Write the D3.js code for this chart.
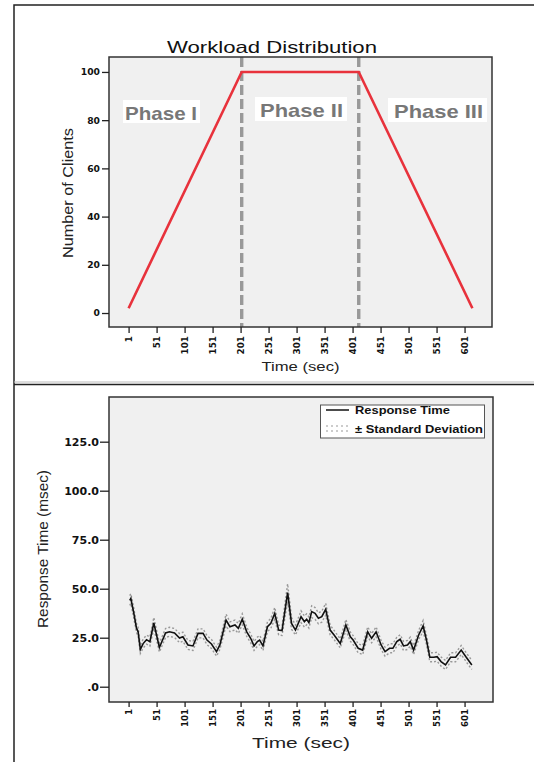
<!DOCTYPE html>
<html><head><meta charset="utf-8">
<script src="https://cdn.jsdelivr.net/npm/d3@7"></script>
<style>
body{margin:0;background:#fff}
svg{display:block}
text{font-family:"Liberation Sans",Arial,sans-serif}
.tick text{font-family:"DejaVu Sans",sans-serif}
</style></head><body>
<svg id="chart" width="534" height="762"></svg>
<script>
// workload (top panel)
const wlTime = [1, 203, 412, 615]
const wlClients = [2, 100, 100, 2]
const phaseBounds = [203, 412]
const phaseNames = ["Phase I", "Phase II", "Phase III"]
const timeTicks = [1, 51, 101, 151, 201, 251, 301, 351, 401, 451, 501, 551, 601]
const clientTicks = [0, 20, 40, 60, 80, 100]

// response time (bottom panel)
const rtTicks = [0, 25, 50, 75, 100, 125]
const rtTime = [3, 5, 10, 15, 18, 22, 27, 33, 39, 46, 56, 67, 74, 83, 92, 98, 107, 116, 125, 134,
  141, 149, 158, 164, 175, 182, 191, 197, 204, 212, 219, 225, 231, 235, 241, 249, 255, 262, 269, 275,
  285, 292, 299, 309, 315, 319, 323, 328, 334, 340, 346, 353, 361, 368, 379, 389, 397, 402, 411, 419,
  428, 435, 443, 452, 459, 467, 473, 480, 486, 492, 499, 504, 510, 519, 527, 533, 539, 546, 552, 559,
  567, 576, 585, 595, 604, 614]
const rtMean = [44, 45, 38, 30, 28, 19, 22, 24, 23, 32.5, 20, 27.4, 28, 27.4, 24.8, 25.5, 21.3, 20.8, 27.2, 27.2,
  23.8, 21.8, 17.9, 21.3, 34, 30.6, 31.5, 29.8, 34.4, 28, 24.7, 20.8, 23, 23.8, 20.8, 30.6, 32.3, 37.4, 28.9, 28.6,
  48, 32.3, 28.9, 35.7, 33.2, 34.4, 32.7, 38.3, 37.4, 34.9, 35.7, 39.5, 28.9, 26.4, 22.1, 31.5, 25.5, 23.8, 19.6, 18.7,
  28, 24.7, 28, 21.3, 17.9, 19.6, 19.6, 23, 24.2, 20.8, 21.3, 23, 18.7, 26.4, 31, 23.8, 15, 15, 15.3, 12.8,
  11.1, 15, 15, 18.7, 15, 11.1]
const rtSd = [2.5, 2.5, 2.5, 2.3, 2.3, 2, 2.3, 2.3, 2.3, 2.8, 2.3, 2.3, 2.3, 2.3, 2.3, 2.3, 2.3, 2.3, 2.3, 2.3,
  2.3, 2.3, 2.3, 2.3, 3, 2.5, 2.5, 2.5, 2.8, 2.3, 2.3, 2.3, 2.3, 2.3, 2.3, 2.5, 2.5, 3, 2.5, 2.5,
  4.5, 3, 2.5, 3, 2.8, 2.8, 2.8, 3, 3, 2.8, 2.8, 3, 2.5, 2.3, 2.3, 2.8, 2.3, 2.3, 2.3, 2.3,
  2.5, 2.3, 2.5, 2.3, 2.3, 2.3, 2.3, 2.3, 2.3, 2.3, 2.3, 2.3, 2.3, 2.3, 2.8, 2.3, 2.3, 2.3, 2.3, 2.3,
  2.3, 2.3, 2.3, 2.3, 2.3, 2.3]

const svg = d3.select("#chart")

// outer frame + divider
svg.append("path").attr("d", "M14,762V5H534").attr("fill", "none").attr("stroke", "#222").attr("stroke-width", 1.5)
svg.append("line").attr("x1", 14).attr("x2", 534).attr("y1", 382).attr("y2", 382).attr("stroke", "#bbb")
svg.append("line").attr("x1", 14).attr("x2", 534).attr("y1", 384.5).attr("y2", 384.5).attr("stroke", "#222").attr("stroke-width", 1.5)

const x = d3.scaleLinear([-34, 650], [109, 492])

function styleYTicks(g, size, gap) {
  g.select(".domain").remove()
  g.selectAll(".tick line").attr("stroke", "#222").attr("stroke-width", 1.3)
  g.selectAll(".tick text")
    .attr("font-size", size).attr("font-weight", "bold").attr("fill", "#111")
    .attr("x", -gap)
}
function styleXTicks(g, size, gap) {
  g.select(".domain").remove()
  g.selectAll(".tick line").attr("stroke", "#222").attr("stroke-width", 1.3)
  g.selectAll(".tick text")
    .attr("font-size", size).attr("font-weight", "bold").attr("fill", "#111")
    .attr("transform", "rotate(-90)")
    .attr("text-anchor", "end")
    .attr("x", -gap).attr("y", 0).attr("dy", "0.36em")
}

// ---------- top panel ----------
const y1 = d3.scaleLinear([-5.8, 106.2], [327, 57])

svg.append("rect").attr("x", 109).attr("y", 57).attr("width", 383).attr("height", 270)
  .attr("fill", "#f0f0f0")

svg.append("g").selectAll("line").data(phaseBounds).join("line")
  .attr("x1", d => x(d)).attr("x2", d => x(d))
  .attr("y1", 57).attr("y2", 327)
  .attr("stroke", "#999").attr("stroke-width", 3.4).attr("stroke-dasharray", "10,4")

svg.append("path")
  .datum(wlTime.map((t, i) => [t, wlClients[i]]))
  .attr("fill", "none").attr("stroke", "#e8323c").attr("stroke-width", 2.6)
  .attr("d", d3.line().x(d => x(d[0])).y(d => y1(d[1])))

// phase labels (boxes)
const phaseBox = [[123, 100, 77, 23], [255, 97, 92, 24], [388, 98, 99, 24]]
const phaseText = [[125, 119.5, 72], [260, 117, 83], [394, 118, 89]]
phaseNames.forEach((name, i) => {
  const b = phaseBox[i], t = phaseText[i]
  svg.append("rect").attr("x", b[0]).attr("y", b[1]).attr("width", b[2]).attr("height", b[3]).attr("fill", "#fff")
  svg.append("text").attr("x", t[0]).attr("y", t[1])
    .attr("font-size", 19).attr("font-weight", "bold").attr("fill", "#777")
    .attr("textLength", t[2]).attr("lengthAdjust", "spacingAndGlyphs")
    .text(name)
})

svg.append("rect").attr("x", 109).attr("y", 57).attr("width", 383).attr("height", 270)
  .attr("fill", "none").attr("stroke", "#333").attr("stroke-width", 1.5)

svg.append("g").attr("transform", "translate(109,0)")
  .call(d3.axisLeft(y1).tickValues(clientTicks).tickSize(7))
  .call(g => styleYTicks(g, 9.2, 9))

svg.append("g").attr("transform", "translate(0,327)")
  .call(d3.axisBottom(x).tickValues(timeTicks).tickSize(6))
  .call(g => styleXTicks(g, 8.8, 9))

svg.append("text").attr("x", 272).attr("y", 52.5).attr("text-anchor", "middle")
  .attr("font-size", 16.5).attr("fill", "#111")
  .attr("textLength", 210).attr("lengthAdjust", "spacingAndGlyphs")
  .text("Workload Distribution")

svg.append("text").attr("x", 300.5).attr("y", 371).attr("text-anchor", "middle")
  .attr("font-size", 13).attr("fill", "#222")
  .attr("textLength", 78).attr("lengthAdjust", "spacingAndGlyphs")
  .text("Time (sec)")

svg.append("text").attr("transform", "translate(72.5,193) rotate(-90)").attr("text-anchor", "middle")
  .attr("font-size", 14).attr("fill", "#222")
  .attr("textLength", 130).attr("lengthAdjust", "spacingAndGlyphs")
  .text("Number of Clients")

// ---------- bottom panel ----------
const y2 = d3.scaleLinear([-7.8, 147.8], [702, 397])

svg.append("rect").attr("x", 109).attr("y", 397).attr("width", 384).attr("height", 305)
  .attr("fill", "#f0f0f0")

const rt = rtTime.map((t, i) => ({ t, m: rtMean[i], s: rtSd[i] }))
const sdLine = sign => d3.line().x(d => x(d.t)).y(d => y2(d.m + sign * d.s))

svg.append("g").selectAll("path").data([1, -1]).join("path")
  .attr("fill", "none").attr("stroke", "#999").attr("stroke-width", 1.4)
  .attr("stroke-dasharray", "2,2")
  .attr("d", s => sdLine(s)(rt))

svg.append("path").datum(rt)
  .attr("fill", "none").attr("stroke", "#111").attr("stroke-width", 1.6)
  .attr("d", d3.line().x(d => x(d.t)).y(d => y2(d.m)))

svg.append("rect").attr("x", 109).attr("y", 397).attr("width", 384).attr("height", 305)
  .attr("fill", "none").attr("stroke", "#333").attr("stroke-width", 1.5)

svg.append("g").attr("transform", "translate(109,0)")
  .call(d3.axisLeft(y2).tickValues(rtTicks).tickSize(9)
    .tickFormat(d => d === 0 ? ".0" : d3.format(".1f")(d)))
  .call(g => styleYTicks(g, 11, 10))

svg.append("g").attr("transform", "translate(0,702)")
  .call(d3.axisBottom(x).tickValues(timeTicks).tickSize(5))
  .call(g => styleXTicks(g, 8.6, 7))

svg.append("text").attr("x", 301).attr("y", 748).attr("text-anchor", "middle")
  .attr("font-size", 15).attr("fill", "#222")
  .attr("textLength", 98).attr("lengthAdjust", "spacingAndGlyphs")
  .text("Time (sec)")

svg.append("text").attr("transform", "translate(48,549) rotate(-90)").attr("text-anchor", "middle")
  .attr("font-size", 15).attr("fill", "#222")
  .attr("textLength", 158).attr("lengthAdjust", "spacingAndGlyphs")
  .text("Response Time (msec)")

// legend
const lg = svg.append("g")
lg.append("rect").attr("x", 320.5).attr("y", 405).attr("width", 164).attr("height", 33)
  .attr("fill", "#fff").attr("stroke", "#555").attr("stroke-width", 1)
lg.append("line").attr("x1", 326).attr("x2", 349).attr("y1", 410).attr("y2", 410)
  .attr("stroke", "#111").attr("stroke-width", 1.5)
lg.selectAll(".sd").data([426, 431]).join("line").attr("class", "sd")
  .attr("x1", 326).attr("x2", 349).attr("y1", d => d).attr("y2", d => d)
  .attr("stroke", "#999").attr("stroke-width", 1.2).attr("stroke-dasharray", "2,3")
lg.append("text").attr("x", 355).attr("y", 414).attr("font-size", 11.5).attr("font-weight", "bold")
  .attr("fill", "#111").attr("textLength", 95).attr("lengthAdjust", "spacingAndGlyphs")
  .text("Response Time")
lg.append("text").attr("x", 355).attr("y", 433).attr("font-size", 11.5).attr("font-weight", "bold")
  .attr("fill", "#111").attr("textLength", 128).attr("lengthAdjust", "spacingAndGlyphs")
  .text("± Standard Deviation")
</script>
</body></html>
